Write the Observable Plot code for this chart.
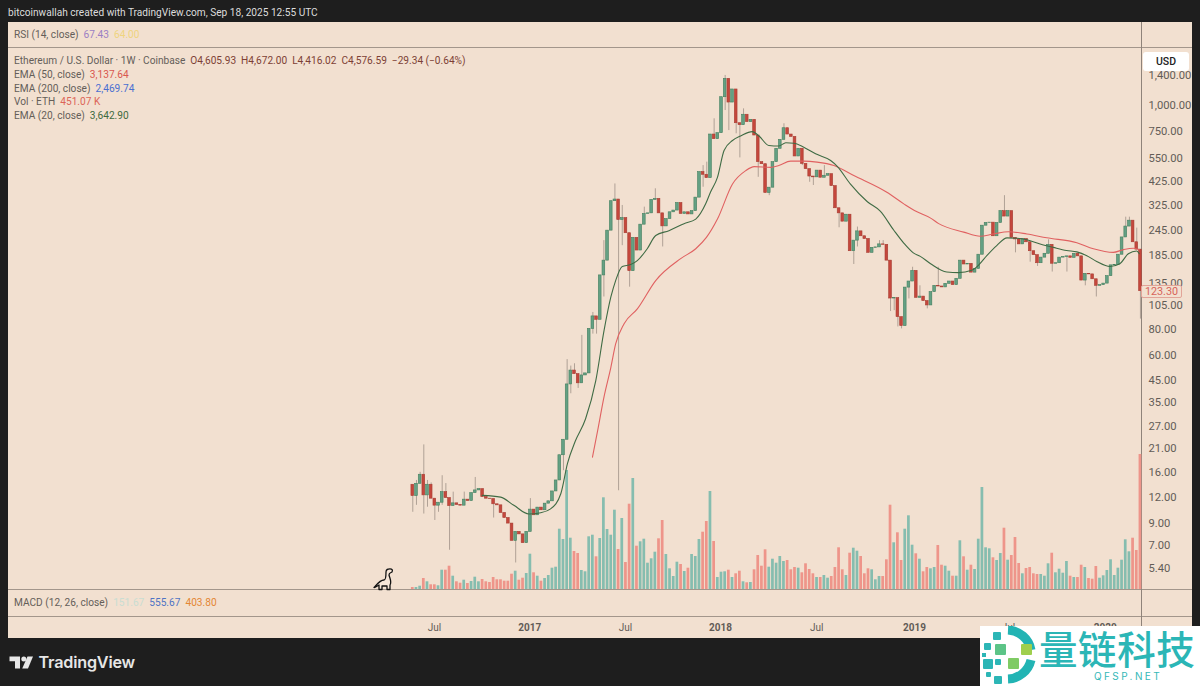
<!DOCTYPE html>
<html>
<head>
<meta charset="utf-8">
<script src="https://cdn.jsdelivr.net/npm/d3@7"></script>
<script src="https://cdn.jsdelivr.net/npm/@observablehq/plot@0.6"></script>
<style>
html,body{margin:0;padding:0;background:#1e1e1e;width:1200px;height:686px;overflow:hidden;font-family:Roboto,"Noto Sans",sans-serif}
#stage{position:relative;width:1200px;height:686px}
#panel{position:absolute;left:8px;top:22px;width:1184px;height:616px;background:#f2e0d0}
.hl{position:absolute;left:8px;width:1184px;height:1px;background:#a3968b}
.vl{position:absolute;left:1141px;top:22px;width:1px;height:616px;background:#8f837a}
.t{position:absolute;white-space:pre;font-size:10.15px;line-height:14px;color:#645e59}
#plots{position:absolute;left:0;top:0;width:1200px;height:686px}
#plots svg{position:absolute;left:0;top:0;background:transparent}
#usd{position:absolute;left:1143px;top:52px;width:46px;height:19px;background:#fff;border-radius:3px;color:#222;font-size:10.5px;line-height:19px;text-align:center;font-weight:500}
#last{position:absolute;left:1141px;width:39px;height:11px;border:1px solid #e2a498;background:#f2e0d0;color:#d8645a;font-size:10.8px;line-height:11px;text-align:center;border-radius:2px}
#brand{position:absolute;left:38.5px;top:651px;font-family:Inter;font-size:16.2px;font-weight:600;line-height:22px;color:#e6e6e6;letter-spacing:-.2px}
#wm{position:absolute;left:980px;top:626px;width:220px;height:60px;background:#fff;overflow:hidden}
#wmcn{position:absolute;left:59px;top:-3px;font-family:"Noto Sans CJK SC";font-size:38.5px;line-height:48px;color:#2bb6b6;white-space:pre;font-weight:500;letter-spacing:.6px}
#wmen{position:absolute;left:114px;top:44px;font-family:Inter;font-size:10px;line-height:12px;color:#35b8b8;letter-spacing:2.4px;white-space:pre}
</style>
</head>
<body>
<div id="stage">
  <div id="panel"></div>
  <div class="hl" style="top:47px"></div>
  <div class="hl" style="top:589px"></div>
  <div class="hl" style="top:616px"></div>
  <div class="vl"></div>
  <div id="plots"></div>
  <div class="t" style="left:8px;top:6px;color:#dcdcdc">bitcoinwallah created with TradingView.com, Sep 18, 2025 12:55 UTC</div>
  <div class="t" style="left:14px;top:28px">RSI (14, close)  <span style="color:#9b7fc4">67.43</span>  <span style="color:#efd47e">64.00</span></div>
  <div class="t" style="left:14px;top:54px">Ethereum / U.S. Dollar · 1W · Coinbase  <span style="color:#7d3f35">O4,605.93  H4,672.00  L4,416.02  C4,576.59  −29.34 (−0.64%)</span></div>
  <div class="t" style="left:14px;top:68px">EMA (50, close)  <span style="color:#d9574f">3,137.64</span></div>
  <div class="t" style="left:14px;top:82px">EMA (200, close)  <span style="color:#4a6fd0">2,469.74</span></div>
  <div class="t" style="left:14px;top:95px">Vol · ETH  <span style="color:#dc6558">451.07 K</span></div>
  <div class="t" style="left:14px;top:109px">EMA (20, close)  <span style="color:#3e6a3e">3,642.90</span></div>
  <div class="t" style="left:14px;top:596px">MACD (12, 26, close)  <span style="color:#c9ddd2">151.67</span>  <span style="color:#4f74c4">555.67</span>  <span style="color:#e48634">403.80</span></div>
  <div id="usd">USD</div>
  <div id="last"></div>
  <svg style="position:absolute;left:372px;top:568px" width="23" height="23" viewBox="0 0 23 23"><path d="M2 19.5C6 15 8 12 12 12C14 12 14 8 14 4C14 1 16 .8 18 .8C20 .8 21 2 20 4C18 5 17 5 17 7C18 11 20 14 18 17L18 21.5L15 21.5L15 18L10 18L10 21.5L7 21.5L7 17C5 18 3 20 2 19.5Z" fill="#f6e6d8" stroke="#111" stroke-width="1.3" stroke-linejoin="round"/></svg>
  <svg style="position:absolute;left:0;top:650px" width="36" height="24"><path d="M9.5 6.5h10.5v12h-5v-7.2h-5.500z" fill="#e6e6e6"/><circle cx="23.800" cy="9" r="2.500" fill="#e6e6e6"/><path d="M27.500 6.500h5.500l-5 12h-5.800z" fill="#e6e6e6"/></svg>
  <div id="brand">TradingView</div>
  <div id="wm">
    <svg style="position:absolute;left:0;top:0" width="60" height="60">
      <path d="M28 4A24.500 24.500 0 0 1 51 24" fill="none" stroke="#22b4b4" stroke-width="9"/>
      <path d="M51 34A24.500 24.500 0 0 1 28 53" fill="none" stroke="#22b4b4" stroke-width="9"/>
      <g fill="#2cb6b6"><rect x="13" y="6" width="8" height="8" rx="1"/><rect x="4" y="17" width="7" height="7" rx="1"/><rect x="2" y="27" width="4" height="4"/><rect x="3" y="33" width="10" height="10" rx="1"/><rect x="15" y="33" width="6" height="6" rx="1"/><rect x="6" y="46" width="5" height="5" rx="1"/><rect x="14" y="50" width="8" height="8" rx="1"/></g>
      <rect x="15" y="18" width="11" height="11" rx="1" fill="#5cc487"/>
      <rect x="41" y="18" width="11" height="11" rx="1" fill="#9fcf4d"/>
      <rect x="28" y="32" width="11" height="11" rx="1" fill="#7fcb64"/>
    </svg>
    <div id="wmcn">量链科技</div>
    <div id="wmen">QFSP.NET</div>
  </div>
</div>
<script>
const firstOpen = 13.91;
const closes = [12.24,14.06,15.57,12.34,13.91,11.89,10.99,11.36,12.8,11.97,10.94,11.28,11.07,10.99,11.76,11.58,12.66,13.05,13.24,12.1,
11.89,11.84,11.16,11.03,10.12,9.56,8.98,7.39,8.18,7.95,7.2,8.18,10.51,9.86,10.75,10.43,11.24,11.54,12.9,14.6,
19.4,23.1,43.1,50.4,48.4,43.65,47.7,48.8,80.6,92.8,89.3,147.3,174,244,340,346.5,275,281,237,154.5,
225,195,261,294.5,296.5,345,349,296.5,256,278,300,306,333,294.5,300,293,304,354,472,458,
441,721,684,732,1098,1351,1034,1198,819,801,901,829,851,713,528,516,373,396,528,614,
679,774,721,702,563,614,518,488,449,445,480,443,453,461,403,314,296.5,270,292,193.5,
218,242,229,222,190,201,202,209,208,174,113.5,114,92,83.2,128.4,137.5,155,114.4,116,110.3,
105,122,131,130,128.7,134,137.5,132,141.8,174,166.6,167.8,152,158.5,186,258,266,267,229,266,
304,286,304,225,221,209,222,214,193.5,185,169,180,188,208,168,169,180,181,182.6,179.6,
188,182.6,139,150,149,141,131,132,134.3,146,165,165.5,186,226,255.5,273,214,197,123.3];

const volumesK = [20,20,33,110,77,47,47,37,193,193,233,133,77,63,93,60,80,123,77,100,
77,70,120,97,97,83,83,153,183,93,113,160,353,167,133,83,110,140,213,223,
603,500,1190,513,380,360,190,177,527,543,327,510,917,600,543,793,400,710,270,853,
1110,433,477,503,263,307,373,507,690,350,207,130,273,250,180,213,350,330,500,573,
680,980,480,120,173,177,193,120,157,183,77,67,70,197,340,233,397,223,303,263,
330,280,290,197,220,213,167,257,200,157,120,120,140,113,130,220,417,197,140,363,
413,383,330,157,207,197,97,130,130,297,843,467,567,290,603,737,443,357,303,177,
220,207,220,440,243,233,183,133,133,487,327,193,243,200,503,1020,417,407,317,290,
360,613,293,340,520,260,157,210,220,157,150,150,133,257,363,167,203,163,280,133,
120,120,243,220,110,103,230,113,137,190,297,140,213,293,497,377,513,390,1350];

const highIdx = [1,2,3,4,5,8,9,11,14,17,32,42,43,44,46,49,52,55,57,63,66,79,80,82,85,90,101,112,121,127,128,136,138,143,161,173,190,194,195,197];
const highVals = [14.6,16,21.8,14.6,14.2,15.4,14.1,12.8,12.8,15.1,11.9,57,53,54.4,74.9,97,218,413,324,318,391,508,528,861,1403,963,814,508,254,218,218,161.5,131,161.5,362,220,157,284,284,251];
const lowIdx = [0,1,3,4,6,7,8,10,22,28,41,43,45,49,50,51,52,56,57,59,68,79,85,86,88,89,94,97,106,108,109,116,120,121,130,131,132,133,135,140,164,168,170,174,178,183,186,198];
const lowVals = [10.2,11.03,10,10.8,9.3,10.2,11.03,6.65,9.56,5.76,16.3,38.8,41.2,76,76,115.5,115.5,13,206,129,203,398,945,754,727,554,445,362,508,421,406,252,166.6,203,98,99,82.4,80.6,113,101,190,171,163,153,153,131,115.5,90];

const ema20Idx = [18.9,23.9,27.5,31.6,34.8,37.5,40.3,42.1,44.2,47,49.8,52.05,53.9,55.2,57,59.3,61.1,63.8,66.1,69.7,73.8,77,79.7,81,82.9,84.7,87,89.2,92.4,94.2,96.9,99.6,101.5,103.7,106.4,109.6,113.7,115.5,119.1,123.7,127.2,130.9,133.6,136.2,138.1,140.9,145.3,148.5,152.1,153.9,156.2,158.9,161.7,164.4,167.1,170.7,174.3,177.9,180.7,183.4,186.1,189.7,192.4,194.7,197,197.7];
const ema20Vals = [12.34,12.1,11.03,10,10.15,10.6,12.6,17.7,22.7,29.2,45,79.2,115.5,139,163,166.5,174,199,231,244,264,278,330,376,445,602,674,709,745,709,637,633,657,654,625,580,538,504,412,338,304,245,212,190,182.6,168,153,152,156,165,184,206,225,224,220,210,202,195,192,184,172.500,163,168,188,194,188];
const ema50Idx = [48.9,50.3,52.05,53.9,55.2,57.5,61.1,66.1,72.9,77,79.9,82.9,87,90.6,92.9,97.4,99.6,102.8,106.4,110,114.6,120,129,133.6,136.5,140.9,143.1,149.9,154.4,158,162.1,167.1,172.5,180.7,185.2,190.6,193.4,196.1,197.7];
const ema50Vals = [19,25.6,37.6,52.3,68,85.5,101,139,178,199,226,278,413,480,502,498,508,534,534,528,508,454,376,330,306,281,264,240,229,235,241,235,225,213,199,191,197,200,196.6];

const priceTicks = [1400,1000,750,550,425,325,245,185,135,105,80,60,45,35,27,21,16,12,9,7,5.4];
const monthTickIdx = [5.9,57.9,109.9,162.1];
const monthTickLabels = ["Jul","Jul","Jul","Jul"];
const yearTickIdx = [31.8,83.7,136.5,188.4];
const yearTickLabels = ["2017","2018","2019","2020"];

const opens = closes.map((c,i)=> i ? closes[i-1] : firstOpen);
const candles = closes.map((c,i)=>({
  i, open:opens[i], close:c, up:c>=opens[i], vol:volumesK[i],
  high: highIdx.includes(i) ? highVals[highIdx.indexOf(i)] : Math.max(c,opens[i]),
  low: lowIdx.includes(i) ? lowVals[lowIdx.indexOf(i)] : Math.min(c,opens[i])
}));
const ema20 = ema20Idx.map((i,k)=>({i,v:ema20Vals[k]}));
const ema50 = ema50Idx.map((i,k)=>({i,v:ema50Vals[k]}));

const xOpts = {domain:[-110.01,198.29]};
const W = 1200, H = 686;
const HW = 0.37;

const volumePlot = Plot.plot({
  width:W,height:H,marginLeft:8,marginRight:59,marginTop:22,marginBottom:97,
  x:{...xOpts,axis:null},
  y:{domain:[0,5670],axis:null},
  marks:[
    Plot.rect(candles,{x1:d=>d.i-HW,x2:d=>d.i+HW,y1:0,y2:"vol",fill:d=>d.up?"#86bdaf":"#ee958a"})
  ]
});

const pricePlot = Plot.plot({
  width:W,height:H,marginLeft:8,marginRight:59,marginTop:22,marginBottom:69,
  style:{fontFamily:"Roboto,sans-serif",fontSize:"11.2px",color:"#625c57",background:"transparent"},
  x:xOpts,
  y:{type:"log",domain:[3.115,2549],axis:null},
  marks:[
    Plot.text(priceTicks,{y:d=>d,text:d3.format(",.2f"),frameAnchor:"right",dx:7,textAnchor:"start",fontSize:11.2,fill:"#625c57"}),
    Plot.axisX({anchor:"bottom",ticks:monthTickIdx,tickFormat:d=>monthTickLabels[monthTickIdx.indexOf(d)],tickSize:0,tickPadding:6.5,label:null,fontSize:10}),
    Plot.axisX({anchor:"bottom",ticks:yearTickIdx,tickFormat:d=>yearTickLabels[yearTickIdx.indexOf(d)],tickSize:0,tickPadding:6.5,label:null,fontWeight:700,fontSize:10}),
    Plot.ruleX(candles,{x:"i",y1:"low",y2:"high",stroke:"#a89a8f",strokeWidth:0.9}),
    Plot.rect(candles,{x1:d=>d.i-HW,x2:d=>d.i+HW,y1:"open",y2:"close",
      fill:d=>d.up?"#64a084":"#c5473c",stroke:d=>d.up?"#44805f":"#a83e34",strokeWidth:0.6}),
    Plot.line(ema50,{x:"i",y:"v",stroke:"#e06161",strokeWidth:1.1,curve:"monotone-x"}),
    Plot.line(ema20,{x:"i",y:"v",stroke:"#3f6b44",strokeWidth:1.1,curve:"monotone-x"})
  ]
});
const host = document.getElementById("plots");
host.append(volumePlot,pricePlot);
const last = document.getElementById("last");
last.textContent = d3.format(",.2f")(closes[closes.length-1]);
last.style.top = (pricePlot.scale("y").apply(closes[closes.length-1])-6)+"px";
</script>
</body>
</html>
